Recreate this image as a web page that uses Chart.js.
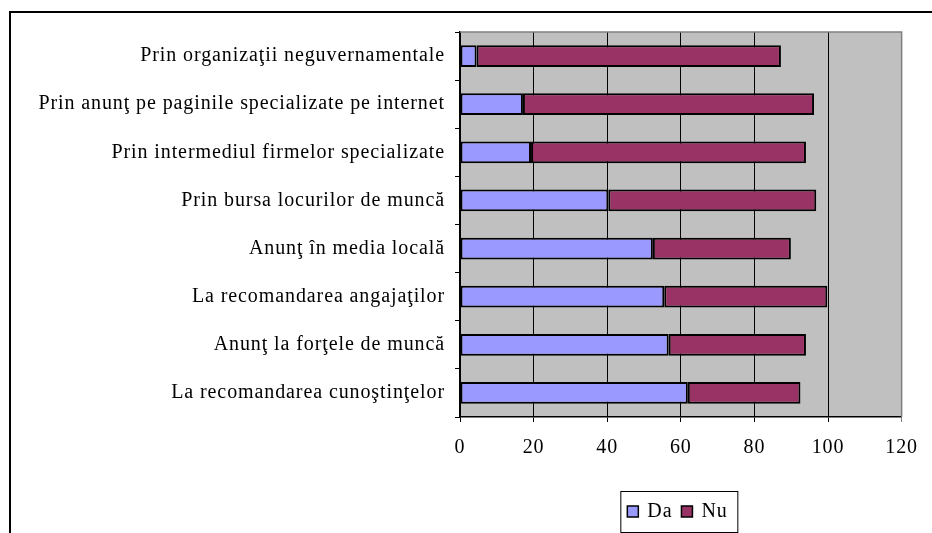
<!DOCTYPE html>
<html>
<head>
<meta charset="utf-8">
<script src="https://cdn.jsdelivr.net/npm/chart.js@4/dist/chart.umd.min.js"></script>
<style>
  html, body { margin: 0; padding: 0; background: #fff; }
  #wrap { position: relative; width: 932px; height: 533px; }
</style>
</head>
<body>
<div id="wrap"><canvas id="graph"></canvas></div>
<script>
// Date
const categories = [
    'Prin organizaţii neguvernamentale',
    'Prin anunţ pe paginile specializate pe internet',
    'Prin intermediul firmelor specializate',
    'Prin bursa locurilor de muncă',
    'Anunţ în media locală',
    'La recomandarea angajaţilor',
    'Anunţ la forţele de muncă',
    'La recomandarea cunoştinţelor'
];
const seriesNames = ['Da', 'Nu'];
const daValues = [4.5, 17.1, 19.3, 40.3, 52.4, 55.5, 56.7, 61.9];
const nuValues = [82.7, 79.1, 74.7, 56.5, 37.5, 44.3, 37.3, 30.6];
const xTicks = [0, 20, 40, 60, 80, 100, 120];

const FONT = "'Liberation Serif', 'Times New Roman', serif";
const SPACING = '0.9px';
Chart.defaults.font.family = FONT;
Chart.defaults.font.size = 20;
Chart.defaults.color = '#000';

// fundal gri, rama graficului si legenda
const decor = {
    id: 'decor',
    beforeLayout(chart) {
        chart.ctx.letterSpacing = SPACING;
    },
    beforeDraw(chart) {
        const { ctx, chartArea: a } = chart;
        ctx.letterSpacing = SPACING;
        ctx.save();
        ctx.fillStyle = '#C0C0C0';
        ctx.fillRect(a.left, a.top, a.right - a.left, a.bottom - a.top);
        ctx.restore();
    },
    afterDraw(chart) {
        const { ctx, chartArea: a } = chart;
        ctx.save();
        // marginea gri sus / dreapta
        ctx.strokeStyle = '#808080';
        ctx.lineWidth = 1.5;
        ctx.beginPath();
        ctx.moveTo(a.left, a.top);
        ctx.lineTo(a.right, a.top);
        ctx.lineTo(a.right, a.bottom);
        ctx.stroke();

        // rama exterioara
        ctx.strokeStyle = '#000';
        ctx.lineWidth = 2;
        ctx.beginPath();
        ctx.moveTo(10, chart.height);
        ctx.lineTo(10, 12);
        ctx.lineTo(chart.width, 12);
        ctx.stroke();

        // legenda
        const cx = (a.left + a.right) / 2 - 2;
        const bx = cx - 58.5, by = 491, bw = 117, bh = 41;
        ctx.lineWidth = 1;
        ctx.strokeStyle = '#000';
        ctx.fillStyle = '#fff';
        ctx.fillRect(bx, by, bw, bh);
        ctx.strokeRect(bx + 0.5, by + 0.5, bw, bh);
        ctx.font = '20px ' + FONT;
        ctx.textBaseline = 'middle';
        let x = bx + 7;
        chart.data.datasets.forEach((ds) => {
            ctx.fillStyle = ds.backgroundColor;
            ctx.fillRect(x, 506, 11, 11);
            ctx.lineWidth = 1.5;
            ctx.strokeStyle = '#000';
            ctx.strokeRect(x, 506, 11, 11);
            ctx.fillStyle = '#000';
            ctx.fillText(ds.label, x + 20, 512);
            x += 20 + ctx.measureText(ds.label).width + 9;
        });
        ctx.restore();
    }
};

new Chart(document.getElementById('graph').getContext('2d'), {
    type: 'bar',
    data: {
        labels: categories,
        datasets: [
            { label: seriesNames[0], data: daValues, backgroundColor: '#9999FF' },
            { label: seriesNames[1], data: nuValues, backgroundColor: '#993366' }
        ]
    },
    options: {
        indexAxis: 'y',
        responsive: true,
        maintainAspectRatio: false,
        animation: false,
        layout: { padding: { left: 0, right: 29, top: 32, bottom: 0 } },
        datasets: {
            bar: {
                borderColor: '#000',
                borderWidth: 2,
                borderSkipped: false,
                barPercentage: 0.45,
                categoryPercentage: 1
            }
        },
        plugins: {
            legend: { display: false },
            tooltip: { enabled: false }
        },
        scales: {
            x: {
                stacked: true,
                min: 0,
                max: 120,
                afterBuildTicks: (s) => { s.ticks = xTicks.map((v) => ({ value: v })); },
                afterFit: (s) => { s.height = 116; },
                grid: {
                    color: (c) => (c.tick && c.tick.value === 120 ? '#808080' : '#000'),
                    lineWidth: 1,
                    tickLength: 5
                },
                border: { color: '#000', width: 1.5 },
                ticks: { padding: 14, color: '#000' }
            },
            y: {
                stacked: true,
                afterFit: (s) => { s.width = 460; },
                grid: {
                    drawOnChartArea: false,
                    color: '#000',
                    tickLength: 5
                },
                border: { color: '#000', width: 1.5 },
                ticks: { padding: 10, color: '#000', autoSkip: false }
            }
        }
    },
    plugins: [decor]
});
</script>
</body>
</html>
